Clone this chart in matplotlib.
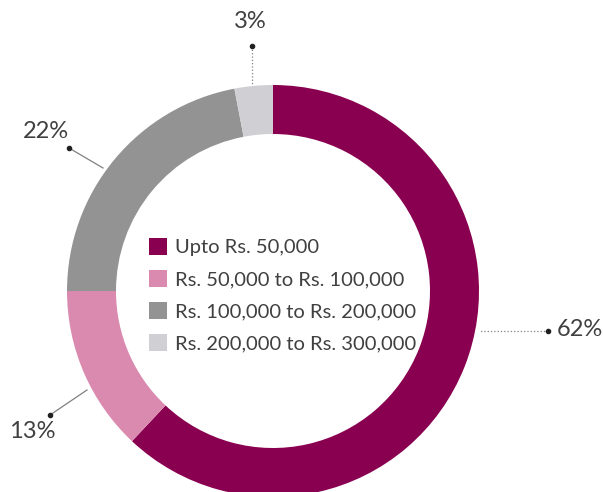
import matplotlib.pyplot as plt

categories = ['Upto Rs. 50,000', 'Rs. 50,000 to Rs. 100,000',
              'Rs. 100,000 to Rs. 200,000', 'Rs. 200,000 to Rs. 300,000']
shares = [62, 13, 22, 3]
colors = ['#8a0050', '#db8aaf', '#939393', '#d0d0d4']

# label text position, dot position, line end on ring, line style
label_pos = [(580, 329), (32, 431), (46, 132), (250, 22)]
dot_pos = [(548, 331), (50, 415), (69, 148), (252, 46)]
ring_pos = [(480, 331), (87, 390), (103, 168), (252, 85)]
line_styles = [':', '-', '-', ':']

plt.rcParams['font.family'] = ['Lato', 'DejaVu Sans']
text_color = '#404040'

fig = plt.figure(figsize=(6.03, 4.92), dpi=100)
ax = fig.add_axes([0, 0, 1, 1])

# y axis runs downward, so -90 is the top and counterclock turns clockwise on screen
wedges, _ = ax.pie(shares, colors=colors, startangle=-90, counterclock=True,
                   center=(273, 291), radius=206,
                   wedgeprops=dict(width=49, linewidth=0))
ax.set_xlim(0, 603)
ax.set_ylim(492, 0)
ax.set_aspect('equal')
ax.axis('off')

for s, lp, dp, rp, ls in zip(shares, label_pos, dot_pos, ring_pos, line_styles):
    ax.plot([dp[0], rp[0]], [dp[1], rp[1]], color='#808080', lw=0.9, ls=ls)
    ax.plot(dp[0], dp[1], 'o', color='#202020', ms=3)
    ax.text(lp[0], lp[1], f'{s}%', ha='center', va='center',
            fontsize=17, color=text_color)

leg = ax.legend(wedges, categories, loc='upper left', frameon=False,
                bbox_to_anchor=(139 / 603, 1 - 228 / 492),
                fontsize=14.5, handlelength=0.9, handleheight=0.9,
                handletextpad=0.4, labelspacing=0.68, borderpad=0)
for t in leg.get_texts():
    t.set_color(text_color)

fig.savefig('out.png', dpi=100)
